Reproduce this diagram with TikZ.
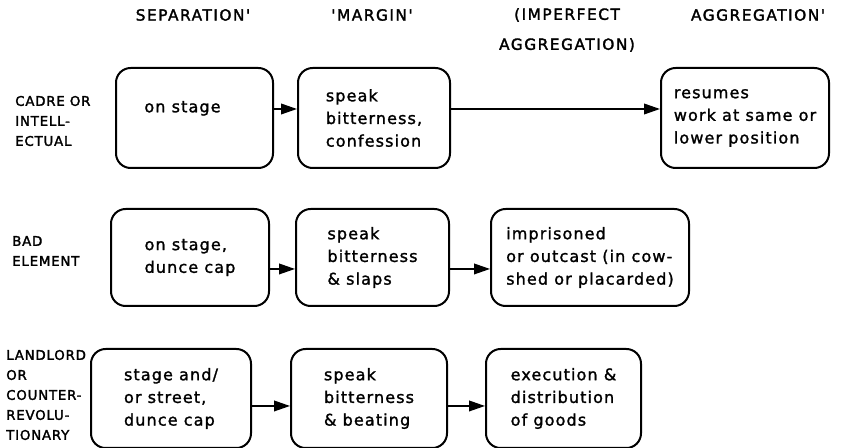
\documentclass[tikz,border=0pt]{standalone}
\usepackage{fontspec}
\setmainfont{DejaVu Sans}
\newfontfamily\headfont[LetterSpace=10,FakeBold=2]{DejaVu Sans}
\newfontfamily\boxfont[LetterSpace=7,FakeBold=1.5]{DejaVu Sans}
\newfontfamily\sidefont[LetterSpace=6,FakeBold=2]{DejaVu Sans}
\usetikzlibrary{arrows.meta}

\begin{document}
\begin{tikzpicture}[x=0.75pt, y=-0.75pt,
  stage/.style={draw, line width=1.5pt, rounded corners=11pt, anchor=north west,
                align=left, inner sep=1pt, font=\boxfont\fontsize{12}{17}\selectfont},
  head/.style={align=center, font=\headfont\fontsize{11.5}{22.5}\selectfont},
  side/.style={anchor=west, align=left, inner sep=0pt, font=\sidefont\fontsize{10}{15}\selectfont},
  go/.style={line width=1.2pt, -{Triangle[length=12pt,width=8pt]}}]
\useasboundingbox (0,0) rectangle (842,448);

\node[head] (sep) at (193,15) {SEPARATION'};
\node[head] (mar) at (372,15) {'MARGIN'};
\node[head] (imp) at (567,30) {(IMPERFECT\\AGGREGATION)};
\node[head] (agg) at (758,15) {AGGREGATION'};

\node[side] (cadre) at (15,121) {CADRE OR\\INTELL-\\ECTUAL};
\node[side] (bad) at (12,251) {BAD\\ELEMENT};
\node[side] (land) at (6,395) {LANDLORD\\OR\\COUNTER-\\REVOLU-\\TIONARY};

% cadre or intellectual
\node[stage, minimum width=117.75pt, minimum height=75pt] (a1) at (115,67)
  {on stage\hspace*{18pt}\\ \mbox{}};
\node[stage, minimum width=114pt, minimum height=75pt] (a2) at (297,67)
  {speak\\bitterness,\\confession};
\node[stage, minimum width=126pt, minimum height=75pt] (a4) at (660,67)
  {resumes\\work at same or\\lower position};

% bad element
\node[stage, minimum width=118.5pt, minimum height=72.75pt] (b1) at (110,208)
  {on stage,\\dunce cap};
\node[stage, minimum width=114.75pt, minimum height=72.75pt] (b2) at (295,208)
  {speak\\bitterness\\\& slaps};
\node[stage, minimum width=148.5pt, minimum height=72.75pt] (b3) at (490,208)
  {imprisoned\\or outcast (in cow-\\shed or placarded)};

% landlord or counter-revolutionary
\node[stage, minimum width=120pt, minimum height=74.25pt] (c1) at (90,348)
  {stage and/\\or street,\\dunce cap};
\node[stage, minimum width=117pt, minimum height=74.25pt] (c2) at (290,348)
  {speak\\bitterness\\\& beating};
\node[stage, minimum width=116.25pt, minimum height=74.25pt] (c3) at (485,348)
  {execution \&\\distribution\\of goods};

\draw[go] ([yshift=6.75pt]a1.east) -- ([yshift=6.75pt]a2.west);
\draw[go] ([yshift=6.75pt]a2.east) -- ([yshift=6.75pt]a4.west);
\draw[go] ([yshift=-8.6pt]b1.east) -- ([yshift=-8.6pt]b2.west);
\draw[go] ([yshift=-8.6pt]b2.east) -- ([yshift=-8.6pt]b3.west);
\draw[go] ([yshift=-5.6pt]c1.east) -- ([yshift=-5.6pt]c2.west);
\draw[go] ([yshift=-5.6pt]c2.east) -- ([yshift=-5.6pt]c3.west);
\end{tikzpicture}
\end{document}
